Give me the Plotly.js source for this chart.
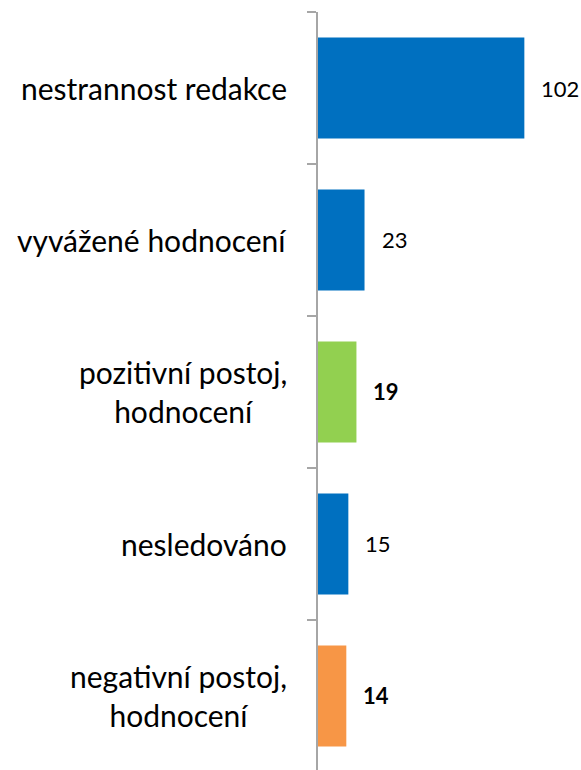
<!DOCTYPE html>
<html>
<head>
<meta charset="utf-8">
<script src="https://cdn.plot.ly/plotly-3.0.1.min.js"></script>
<style>
html,body{margin:0;padding:0;background:#fff;}
#chart{width:581px;height:770px;}
</style>
</head>
<body>
<div id="chart"></div>
<script>
// Data
const categories = ["nestrannost redakce", "vyvážené hodnocení", "pozitivní postoj, hodnocení", "nesledováno", "negativní postoj, hodnocení"];
const categoryLabels = ["nestrannost redakce", "vyvážené hodnocení", "pozitivní postoj,<br>hodnocení", "nesledováno", "negativní postoj,<br>hodnocení"];
const values = [102, 23, 19, 15, 14];

// Styles
const barColors = ["#0070C0", "#0070C0", "#92D050", "#0070C0", "#F79646"];
const boldLabel = [false, false, true, false, true];

const FONT = "Lato, 'Open Sans', sans-serif";

const trace = {
  type: "bar",
  orientation: "h",
  y: categories,
  x: values,
  marker: {color: barColors, line: {width: 0}},
  hoverinfo: "none"
};

const annotations = [];
categories.forEach((c, i) => {
  annotations.push({
    xref: "paper", yref: "y",
    x: 0, y: c,
    xanchor: "right", yanchor: "middle",
    xshift: -29,
    text: categoryLabels[i],
    align: "center",
    showarrow: false,
    font: {family: FONT, size: 30, color: "#000"}
  });
  annotations.push({
    xref: "x", yref: "y",
    x: values[i], y: c,
    xanchor: "left", yanchor: "middle",
    xshift: 15,
    text: boldLabel[i] ? "<b>" + values[i] + "</b>" : String(values[i]),
    showarrow: false,
    font: {family: FONT, size: 22, color: "#000"}
  });
});

const layout = {
  width: 581, height: 770,
  margin: {l: 318, r: 0, t: 12, b: 0, pad: 0},
  paper_bgcolor: "#fff", plot_bgcolor: "#fff",
  showlegend: false,
  bargap: 0.335,
  font: {family: FONT},
  xaxis: {
    range: [0, 130],
    visible: false,
    showgrid: false, zeroline: false, fixedrange: true
  },
  yaxis: {
    type: "category",
    categoryorder: "array",
    categoryarray: categories,
    range: [4.487, -0.5],
    showticklabels: false,
    tickson: "boundaries",
    ticks: "outside",
    ticklen: 9,
    tickwidth: 1.5,
    tickcolor: "#A6A6A6",
    showline: true,
    linecolor: "#A6A6A6",
    linewidth: 2,
    showgrid: false, zeroline: false, fixedrange: true
  },
  annotations: annotations
};

Plotly.newPlot("chart", [trace], layout, {staticPlot: true, displayModeBar: false});
</script>
</body>
</html>
